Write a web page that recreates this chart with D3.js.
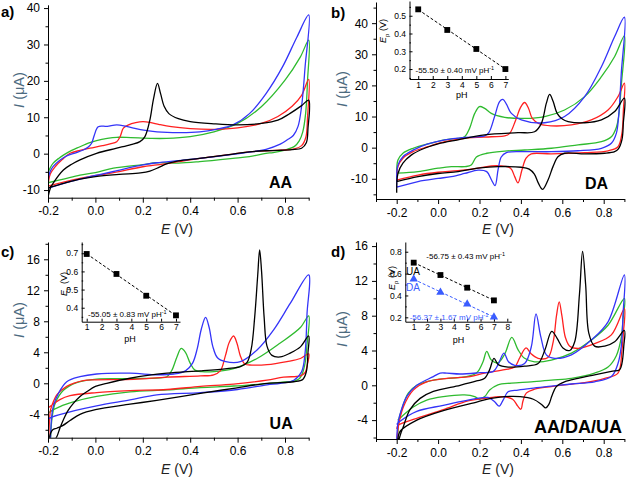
<!DOCTYPE html>
<html><head><meta charset="utf-8">
<script src="https://cdn.jsdelivr.net/npm/d3@7"></script>
<style>body{margin:0;background:#fff}svg{display:block}</style>
</head><body><svg id="chart" width="638" height="480"></svg>
<script>
// ---------- DATA ----------
// Tick values
const xTicksMain = [-0.2, 0.0, 0.2, 0.4, 0.6, 0.8];
const xMinorAC = [-0.1, 0.1, 0.3, 0.5, 0.7, 0.9];
const xMinorBD = [-0.3, -0.1, 0.1, 0.3, 0.5, 0.7, 0.9];
const yTicksA = [-10, 0, 10, 20, 30, 40], yMinorA = [-5, 5, 15, 25, 35];
const yTicksB = [-10, 0, 10, 20, 30, 40], yMinorB = [-15, -5, 5, 15, 25, 35, 45];
const yTicksC = [-4, 0, 4, 8, 12, 16], yMinorC = [-6, -2, 2, 6, 10, 14, 18];
const yTicksD = [-4, 0, 4, 8, 12, 16], yMinorD = [-6, -2, 2, 6, 10, 14];

// Panel a (AA) : [E (V), I (uA)], anodic sweep then cathodic sweep
const aBlack = [[-0.2,-12],[-0.19,-9.5],[-0.178,-8.1],[-0.135,-4.5],[-0.1,-2.9],[-0.065,-1.7],[0.005,0.1],[0.09,1.5],[0.15,2.5],[0.188,3.3],[0.209,4.7],[0.23,9.3],[0.245,15],[0.262,19.3],[0.275,16.5],[0.29,13],[0.31,11],[0.35,9.6],[0.4,8.8],[0.5,8.2],[0.6,7.9],[0.7,8.3],[0.77,9.2],[0.82,11],[0.87,13.2],[0.9,14.7],
  [0.897,7],[0.89,3],[0.87,1.5],[0.83,1.1],[0.77,0.9],[0.72,0.8],[0.65,0.5],[0.58,-0.1],[0.44,-1.3],[0.35,-2.0],[0.3,-2.8],[0.27,-3.7],[0.23,-4.8],[0.19,-5.3],[0.1,-5.7],[0.0,-6.3],[-0.065,-7.0],[-0.13,-8.1],[-0.2,-9.4]];
const aRed = [[-0.2,-8.9],[-0.198,-7.7],[-0.19,-5.5],[-0.17,-3.6],[-0.14,-1.6],[-0.107,0.1],[-0.065,0.9],[-0.023,1.5],[0.03,2.2],[0.062,2.7],[0.09,3.3],[0.105,4.8],[0.118,7.0],[0.14,7.9],[0.17,8.5],[0.2,8.8],[0.23,8.6],[0.27,8.0],[0.32,7.4],[0.4,6.9],[0.5,6.7],[0.6,7.1],[0.7,8.3],[0.77,10.2],[0.83,13],[0.87,16],[0.9,20.4],
  [0.895,10],[0.888,4.5],[0.87,2.2],[0.84,1.3],[0.8,1.0],[0.72,0.8],[0.65,0.5],[0.58,-0.1],[0.44,-1.3],[0.35,-2.2],[0.26,-3.1],[0.2,-3.6],[0.076,-5.2],[-0.065,-6.8],[-0.2,-8.9]];
const aBlue = [[-0.2,-9.5],[-0.199,-6.7],[-0.19,-4.8],[-0.178,-3.5],[-0.15,-1.8],[-0.121,-0.6],[-0.08,0.3],[-0.051,1.0],[-0.03,1.8],[-0.016,2.85],[-0.005,5.0],[0.012,7.4],[0.05,7.5],[0.09,7.9],[0.13,7.5],[0.19,6.6],[0.26,6.0],[0.36,5.8],[0.44,6.0],[0.51,6.7],[0.58,7.9],[0.65,11],[0.72,16.5],[0.79,23.9],[0.85,32],[0.9,38.1],
  [0.885,24],[0.87,13],[0.855,7.5],[0.835,5],[0.81,3.8],[0.78,2.6],[0.72,1.2],[0.65,0.4],[0.58,-0.2],[0.44,-1.3],[0.35,-1.9],[0.259,-2.5],[0.2,-3.1],[0.076,-4.9],[0.0,-6.0],[-0.065,-7.0],[-0.13,-8.1],[-0.2,-9.5]];
const aGreen = [[-0.2,-8.0],[-0.2,-5.4],[-0.19,-3.8],[-0.178,-2.6],[-0.155,-1.3],[-0.135,-0.4],[-0.1,0.9],[-0.065,1.9],[-0.03,2.9],[0.005,3.6],[0.05,4.2],[0.09,4.5],[0.15,4.4],[0.232,4.2],[0.3,4.2],[0.4,4.7],[0.5,6.0],[0.6,8.3],[0.7,12.9],[0.8,20.2],[0.865,26.6],[0.9,31.2],
  [0.895,20],[0.887,11],[0.875,6],[0.86,3.5],[0.84,2.0],[0.8,1.0],[0.75,0.3],[0.72,0.1],[0.65,-0.8],[0.58,-1.3],[0.44,-2.2],[0.35,-2.6],[0.259,-2.5],[0.2,-3.0],[0.076,-4.0],[0.0,-5.2],[-0.065,-5.9],[-0.13,-6.9],[-0.2,-8.0]];

// Panel b (DA)
const bBlack = [[-0.2,-14.5],[-0.194,-8.3],[-0.17,-5.0],[-0.13,-2.4],[-0.065,-0.2],[0.0,1.2],[0.096,2.5],[0.225,4.1],[0.386,4.8],[0.466,5.1],[0.499,7.8],[0.523,14.3],[0.539,17.1],[0.556,14.8],[0.575,11.0],[0.6,9.2],[0.628,8.4],[0.708,8.0],[0.789,8.9],[0.853,11.6],[0.9,15.9],
  [0.895,8],[0.888,2.5],[0.87,-0.5],[0.853,-1.3],[0.805,-1.8],[0.708,-2.0],[0.611,-1.8],[0.579,-2.9],[0.555,-6.1],[0.531,-10.4],[0.505,-13.4],[0.485,-11.5],[0.465,-8.5],[0.44,-6.9],[0.402,-6.3],[0.289,-6.1],[0.193,-6.6],[0.096,-7.7],[0.0,-8.3],[-0.097,-9.3],[-0.2,-10.9]];
const bRed = [[-0.2,-11],[-0.194,-6.1],[-0.17,-3.4],[-0.121,-1.3],[-0.049,0.3],[0.032,1.9],[0.128,3.0],[0.257,3.5],[0.322,3.75],[0.346,4.6],[0.375,8.9],[0.399,13],[0.418,14.5],[0.437,12.6],[0.455,9.4],[0.49,7.6],[0.547,7.0],[0.644,7.3],[0.74,8.9],[0.821,12.1],[0.869,16.4],[0.9,20.7],
  [0.895,12],[0.888,4.6],[0.869,0.3],[0.821,-1.0],[0.708,-1.6],[0.547,-2.0],[0.45,-2.0],[0.425,-3.4],[0.405,-7.2],[0.386,-11.3],[0.37,-9.3],[0.35,-6.6],[0.305,-5.9],[0.257,-5.9],[0.193,-6.6],[0.096,-7.4],[0.0,-7.9],[-0.097,-8.8],[-0.2,-10.4]];
const bBlue = [[-0.2,-12.5],[-0.194,-5.6],[-0.17,-2.9],[-0.121,-0.8],[-0.049,1.2],[0.032,2.5],[0.128,3.3],[0.225,3.75],[0.245,4.8],[0.273,10.0],[0.297,14.8],[0.313,15.5],[0.33,14.0],[0.354,11.0],[0.402,8.9],[0.515,8.0],[0.611,10.0],[0.708,16.4],[0.789,26.0],[0.853,35.7],[0.9,41.9],
  [0.885,24],[0.872,10],[0.861,4.6],[0.837,1.4],[0.789,-0.2],[0.676,-1.0],[0.547,-1.3],[0.418,-1.3],[0.33,-1.6],[0.305,-3.0],[0.29,-7.0],[0.275,-12.2],[0.258,-10.4],[0.235,-7.7],[0.193,-7.2],[0.128,-8.3],[0.064,-9.3],[0.0,-9.9],[-0.097,-10.9],[-0.2,-12.7]];
const bGreen = [[-0.2,-8.2],[-0.194,-4.0],[-0.17,-1.8],[-0.121,-0.2],[-0.049,1.2],[0.032,2.5],[0.096,3.0],[0.128,3.5],[0.152,6.2],[0.177,11.0],[0.2,13.2],[0.225,12.6],[0.257,11.0],[0.322,9.75],[0.418,9.4],[0.515,10.0],[0.611,12.1],[0.708,16.4],[0.789,22.8],[0.853,29.3],[0.9,35.9],
  [0.885,20],[0.872,10],[0.861,6.5],[0.837,3.5],[0.789,1.9],[0.676,0.9],[0.547,-0.2],[0.418,-0.75],[0.322,-1.1],[0.235,-1.8],[0.185,-3.0],[0.16,-5.6],[0.13,-6.1],[0.064,-6.1],[0.0,-6.6],[-0.097,-7.7],[-0.2,-8.2]];

// Panel c (UA)
const cBlack = [[-0.18,-7.6],[-0.163,-6.9],[-0.15,-5.8],[-0.135,-4.7],[-0.115,-3.5],[-0.093,-2.6],[-0.065,-1.7],[-0.037,-1.1],[0.0,-0.4],[0.048,0.0],[0.146,0.65],[0.302,1.3],[0.443,1.6],[0.555,1.9],[0.612,2.15],[0.64,2.7],[0.658,4.5],[0.672,8.5],[0.685,14],[0.693,17.2],[0.701,14.5],[0.712,8.5],[0.724,4.8],[0.745,3.6],[0.78,3.4],[0.822,3.9],[0.865,4.7],[0.9,6.1],
  [0.897,4],[0.89,1.5],[0.875,0.5],[0.837,0.2],[0.724,0.0],[0.583,-0.65],[0.443,-1.3],[0.259,-2.2],[0.146,-2.7],[0.0,-3.4],[-0.065,-4.0],[-0.107,-4.8],[-0.14,-5.5],[-0.163,-5.8],[-0.18,-6.0],[-0.19,-6.5],[-0.195,-7.6]];
const cRed = [[-0.198,-7.6],[-0.193,-4.5],[-0.189,-3.4],[-0.175,-2.2],[-0.163,-1.5],[-0.121,-0.4],[-0.051,0.35],[0.0,0.45],[0.161,0.5],[0.302,0.8],[0.443,0.95],[0.499,1.1],[0.527,1.6],[0.548,3.5],[0.565,5.3],[0.583,6.1],[0.597,5.2],[0.612,3.5],[0.63,2.5],[0.66,2.35],[0.724,2.4],[0.808,2.8],[0.865,3.2],[0.9,3.8],
  [0.895,2.5],[0.885,1.4],[0.865,0.95],[0.794,0.8],[0.724,0.4],[0.583,-0.1],[0.443,-0.4],[0.302,-0.8],[0.146,-0.95],[0.005,-1.2],[-0.107,-1.6],[-0.15,-2.1],[-0.192,-3.0],[-0.2,-3.2]];
const cBlue = [[-0.19,-7.6],[-0.185,-4.5],[-0.178,-3.0],[-0.156,-1.3],[-0.121,0.2],[-0.065,0.85],[0.005,1.2],[0.146,1.3],[0.26,1.1],[0.33,1.2],[0.38,1.6],[0.41,2.6],[0.43,4.5],[0.447,7.0],[0.465,8.5],[0.48,7.2],[0.495,4.8],[0.515,3.3],[0.55,2.8],[0.612,2.8],[0.682,4.3],[0.752,6.9],[0.822,10.3],[0.9,14.0],
  [0.893,9],[0.885,4],[0.87,1.5],[0.837,0.4],[0.78,0.0],[0.724,-0.2],[0.6,-0.8],[0.443,-1.2],[0.259,-1.5],[0.146,-2.15],[0.005,-2.9],[-0.135,-3.9],[-0.199,-4.65],[-0.2,-5.5]];
const cGreen = [[-0.19,-7.6],[-0.183,-4.5],[-0.17,-2.6],[-0.135,-0.9],[-0.079,0.1],[0.005,0.55],[0.146,0.6],[0.274,0.7],[0.302,0.85],[0.323,1.7],[0.344,3.4],[0.362,4.5],[0.38,4.0],[0.4,2.6],[0.42,1.7],[0.45,1.5],[0.5,1.5],[0.583,1.9],[0.682,3.2],[0.78,5.2],[0.865,7.2],[0.9,8.7],
  [0.893,5],[0.882,2.2],[0.86,0.6],[0.78,0.1],[0.696,-0.1],[0.583,-0.35],[0.443,-0.55],[0.302,-0.85],[0.146,-1.1],[0.005,-1.7],[-0.093,-2.4],[-0.149,-3.0],[-0.199,-3.9],[-0.2,-4.5]];

// Panel d (AA/DA/UA)
const dBlack = [[-0.192,-6.5],[-0.18,-5.5],[-0.168,-4.75],[-0.136,-2.8],[-0.087,-1.5],[-0.023,-0.7],[0.106,0.0],[0.186,0.5],[0.225,0.8],[0.249,1.8],[0.27,3.1],[0.29,2.4],[0.338,2.1],[0.418,2.2],[0.483,2.5],[0.515,4.0],[0.549,6.2],[0.575,5.4],[0.603,4.3],[0.636,4.0],[0.66,5.0],[0.683,10.5],[0.698,15.4],[0.713,11.5],[0.728,6],[0.756,4.5],[0.805,4.5],[0.853,5.0],[0.9,6.3],
  [0.897,4.5],[0.888,2.5],[0.877,1.8],[0.837,1.6],[0.756,1.2],[0.676,0.8],[0.611,0.4],[0.571,-0.15],[0.55,-1.2],[0.535,-2.2],[0.52,-2.6],[0.5,-2.2],[0.46,-1.6],[0.396,-1.3],[0.322,-1.3],[0.257,-1.5],[0.19,-1.9],[0.025,-2.9],[-0.103,-4.0],[-0.184,-5.3],[-0.195,-6.5]];
const dRed = [[-0.2,-6.5],[-0.192,-4.75],[-0.168,-2.5],[-0.12,-0.55],[-0.055,0.4],[0.042,0.8],[0.154,1.0],[0.225,1.4],[0.322,1.8],[0.37,2.1],[0.395,3.2],[0.425,4.3],[0.45,3.6],[0.483,3.1],[0.531,3.2],[0.556,5.0],[0.572,8.0],[0.585,9.6],[0.598,8.0],[0.615,5.5],[0.636,4.5],[0.676,4.25],[0.756,4.8],[0.837,5.8],[0.9,8.8],
  [0.895,6],[0.888,4.0],[0.869,1.4],[0.805,0.8],[0.708,0.3],[0.611,0.05],[0.547,-0.15],[0.466,-0.45],[0.426,-0.9],[0.41,-1.8],[0.4,-2.75],[0.385,-2.4],[0.36,-1.6],[0.305,-1.3],[0.225,-1.5],[0.144,-1.8],[0.025,-2.8],[-0.103,-3.8],[-0.192,-4.6],[-0.2,-5]];
const dBlue = [[-0.2,-6.5],[-0.195,-4.5],[-0.187,-3.6],[-0.152,-1.3],[-0.103,0.0],[-0.023,1.0],[0.01,1.4],[0.042,1.4],[0.106,1.3],[0.202,1.45],[0.267,1.6],[0.29,2.4],[0.318,3.7],[0.34,2.7],[0.37,2.3],[0.418,2.5],[0.45,4.4],[0.473,8.2],[0.496,5.6],[0.523,3.5],[0.563,3.1],[0.644,3.5],[0.74,5.2],[0.821,7.3],[0.9,12.7],
  [0.893,8],[0.885,4.5],[0.869,2.5],[0.837,1.0],[0.756,0.4],[0.644,0.15],[0.547,-0.1],[0.45,-0.35],[0.386,-0.55],[0.338,-0.75],[0.314,-1.7],[0.295,-2.4],[0.273,-1.9],[0.241,-1.4],[0.19,-1.5],[0.025,-2.3],[-0.103,-3.0],[-0.187,-4.2],[-0.2,-4.5]];
const dGreen = [[-0.195,-6.5],[-0.19,-4.0],[-0.176,-2.8],[-0.144,-0.9],[-0.103,0.0],[-0.023,0.6],[0.106,0.9],[0.17,1.2],[0.193,1.6],[0.217,2.7],[0.235,3.9],[0.257,2.9],[0.289,2.6],[0.322,3.6],[0.356,5.5],[0.386,4.1],[0.418,3.1],[0.466,2.7],[0.547,2.9],[0.644,3.7],[0.74,5.2],[0.821,6.9],[0.9,10.0],
  [0.893,7.5],[0.885,5.5],[0.861,3.4],[0.821,2.1],[0.756,1.4],[0.644,0.8],[0.547,0.6],[0.45,0.4],[0.354,0.25],[0.289,0.05],[0.249,-0.55],[0.225,-1.3],[0.2,-1.6],[0.177,-1.3],[0.128,-1.1],[0.025,-1.3],[-0.055,-1.7],[-0.12,-2.5],[-0.176,-3.6],[-0.195,-4.0]];

// Insets: peak potential vs pH
const insetPH = [1, 3, 5, 7];
const bInsetEp = [0.536, 0.42, 0.313, 0.2];
const cInsetEp = [0.696, 0.586, 0.466, 0.358];
const dInsetUA = [0.70, 0.587, 0.471, 0.355];
const dInsetDA = [0.55, 0.428, 0.321, 0.202];
const insetXTicks7 = [1, 2, 3, 4, 5, 6, 7];
const insetXTicks8 = [1, 2, 3, 4, 5, 6, 7, 8];
const bInsetY = [0.2, 0.3, 0.4, 0.5], bInsetYMinor = [0.15, 0.25, 0.35, 0.45, 0.55];
const cInsetY = [0.4, 0.5, 0.6, 0.7], cInsetYMinor = [0.35, 0.45, 0.55, 0.65, 0.75];
const dInsetY = [0.2, 0.4, 0.6, 0.8], dInsetYMinor = [0.3, 0.5, 0.7];

// ---------- DRAW ----------
const FONT = '"Liberation Sans", Arial, Helvetica, sans-serif';
const COL = {k: "#000000", r: "#ff2020", b: "#3434f8", g: "#2fbb2f"};
const svg = d3.select("#chart");

function styleAxis(g, fs) {
  g.attr("font-family", FONT).attr("font-size", fs);
  g.selectAll("path,line").attr("stroke", "#000").attr("stroke-width", 1);
  g.selectAll("text").attr("fill", "#000");
}

function panel(cfg) {
  const x = d3.scaleLinear().domain(cfg.xd).range(cfg.xr);
  const y = d3.scaleLinear().domain(cfg.yd).range(cfg.yr);
  const root = svg.append("g");
  const clipId = "clip-" + cfg.id;
  root.append("clipPath").attr("id", clipId).append("rect")
    .attr("x", cfg.xr[0]).attr("y", cfg.yr[1])
    .attr("width", cfg.xr[1] - cfg.xr[0] + 2).attr("height", cfg.yr[0] - cfg.yr[1]);
  const line = d3.line().x(d => x(d[0])).y(d => y(d[1])).curve(d3.curveCatmullRom.alpha(0.5));
  const cg = root.append("g").attr("clip-path", `url(#${clipId})`);
  cfg.curves.forEach(c => {
    cg.append("path").attr("d", line(c.data)).attr("fill", "none")
      .attr("stroke", c.color).attr("stroke-width", 1.3).attr("stroke-linejoin", "round");
  });
  // axes
  const xb = cfg.yr[0], yl = cfg.xr[0];
  const gx = root.append("g").attr("transform", `translate(0,${xb})`)
    .call(d3.axisBottom(x).tickValues(xTicksMain).tickSize(5).tickSizeOuter(0).tickPadding(4).tickFormat(d => d.toFixed(1)));
  styleAxis(gx, 12);
  const gxm = root.append("g").attr("transform", `translate(0,${xb})`)
    .call(d3.axisBottom(x).tickValues(cfg.xMinor).tickSize(3).tickSizeOuter(0).tickFormat(""));
  styleAxis(gxm, 12); gxm.select(".domain").remove();
  const gy = root.append("g").attr("transform", `translate(${yl},0)`)
    .call(d3.axisLeft(y).tickValues(cfg.yTicks).tickSize(4).tickSizeOuter(0).tickPadding(4).tickFormat(d3.format("d")));
  styleAxis(gy, 12);
  const gym = root.append("g").attr("transform", `translate(${yl},0)`)
    .call(d3.axisLeft(y).tickValues(cfg.yMinor).tickSize(2.5).tickSizeOuter(0).tickFormat(""));
  styleAxis(gym, 12); gym.select(".domain").remove();
  gy.selectAll("text").text(function(){ return this.textContent.replace("\u2212", "-"); });
  // titles
  const xt = root.append("text").attr("x", cfg.xTitle[0]).attr("y", cfg.xTitle[1])
    .attr("text-anchor", "middle").attr("font-family", FONT).attr("font-size", 14).attr("fill", "#222");
  xt.append("tspan").attr("font-style", "italic").text("E");
  xt.append("tspan").text(" (V)");
  const yt = root.append("text").attr("transform", `translate(${cfg.yTitle[0]},${cfg.yTitle[1]}) rotate(-90)`)
    .attr("text-anchor", "middle").attr("font-family", FONT).attr("font-size", 14.5).attr("fill", "#4d6b7f");
  yt.append("tspan").attr("font-style", "italic").text("I");
  yt.append("tspan").text(" (\u03bcA)");
  root.append("text").attr("x", cfg.lab[0]).attr("y", cfg.lab[1]).attr("font-family", FONT)
    .attr("font-weight", "bold").attr("font-size", 15).attr("fill", "#000").text(cfg.id + ")");
  root.append("text").attr("x", cfg.tag[0]).attr("y", cfg.tag[1]).attr("text-anchor", "end")
    .attr("font-family", FONT).attr("font-weight", "bold").attr("font-size", cfg.tagSize).attr("fill", "#000").text(cfg.tagText);
}

panel({id: "a", xd: [-0.2, 0.9], xr: [48, 308.7], yd: [-12.1, 40.9], yr: [197.7, 4.8],
  xMinor: xMinorAC, yTicks: yTicksA, yMinor: yMinorA,
  curves: [{data: aGreen, color: COL.g}, {data: aRed, color: COL.r}, {data: aBlue, color: COL.b}, {data: aBlack, color: COL.k}],
  xTitle: [177, 234], yTitle: [24, 90], lab: [1, 17], tag: [292, 188], tagSize: 16, tagText: "AA"});
panel({id: "b", xd: [-0.3, 0.9], xr: [376, 624.4], yd: [-16.5, 46.8], yr: [199, 2],
  xMinor: xMinorBD, yTicks: yTicksB, yMinor: yMinorB,
  curves: [{data: bGreen, color: COL.g}, {data: bRed, color: COL.r}, {data: bBlue, color: COL.b}, {data: bBlack, color: COL.k}],
  xTitle: [498, 234], yTitle: [347, 89], lab: [331, 17.5], tag: [608, 188.5], tagSize: 16, tagText: "DA"});
panel({id: "c", xd: [-0.2, 0.9], xr: [48, 308.7], yd: [-7.02, 18.23], yr: [437.7, 242],
  xMinor: xMinorAC, yTicks: yTicksC, yMinor: yMinorC,
  curves: [{data: cGreen, color: COL.g}, {data: cRed, color: COL.r}, {data: cBlue, color: COL.b}, {data: cBlack, color: COL.k}],
  xTitle: [177, 474], yTitle: [24, 320], lab: [1, 257], tag: [292.7, 429], tagSize: 16, tagText: "UA"});
panel({id: "d", xd: [-0.3, 0.9], xr: [376, 624.4], yd: [-6.17, 16.47], yr: [439, 242],
  xMinor: xMinorBD, yTicks: yTicksD, yMinor: yMinorD,
  curves: [{data: dGreen, color: COL.g}, {data: dRed, color: COL.r}, {data: dBlue, color: COL.b}, {data: dBlack, color: COL.k}],
  xTitle: [498, 474], yTitle: [347, 329], lab: [331, 257], tag: [622, 433], tagSize: 18, tagText: "AA/DA/UA"});

// ---------- INSETS ----------
function slopeText(g, xPos, yPos, txt, color) {
  const t = g.append("text").attr("x", xPos).attr("y", yPos).attr("font-family", FONT)
    .attr("font-size", 8).attr("fill", color);
  t.append("tspan").text(txt + " mV pH");
  t.append("tspan").attr("dy", -3).attr("font-size", 5.5).text("-1");
}
function fitLine(xs, ys) {
  const mx = d3.mean(xs), my = d3.mean(ys);
  const s = d3.sum(xs, (v, i) => (v - mx) * (ys[i] - my)) / d3.sum(xs, v => (v - mx) * (v - mx));
  return v => my + s * (v - mx);
}
function inset(cfg) {
  const x = d3.scaleLinear().domain(cfg.xd).range(cfg.xr);
  const y = d3.scaleLinear().domain(cfg.yd).range(cfg.yr);
  const g = svg.append("g");
  const gx = g.append("g").attr("transform", `translate(0,${cfg.yr[0]})`)
    .call(d3.axisBottom(x).tickValues(cfg.xTicks).tickSize(-3).tickSizeOuter(0).tickPadding(2.5).tickFormat(d3.format("d")));
  styleAxis(gx, 8.5);
  const gy = g.append("g").attr("transform", `translate(${cfg.xr[0]},0)`)
    .call(d3.axisLeft(y).tickValues(cfg.yTicks).tickSize(-3).tickSizeOuter(0).tickPadding(3.5).tickFormat(d3.format(".1f")));
  styleAxis(gy, 8.5);
  const gym = g.append("g").attr("transform", `translate(${cfg.xr[0]},0)`)
    .call(d3.axisLeft(y).tickValues(cfg.yMinor).tickSize(-1.5).tickSizeOuter(0).tickFormat(""));
  styleAxis(gym, 8.5); gym.select(".domain").remove();
  const yl = g.append("text").attr("transform", `translate(${cfg.yTitle[0]},${cfg.yTitle[1]}) rotate(-90)`)
    .attr("text-anchor", "middle").attr("font-family", FONT).attr("font-size", 9).attr("fill", "#000");
  yl.append("tspan").attr("font-style", "italic").text("E");
  yl.append("tspan").attr("dy", 2.5).attr("font-size", 6).text("p");
  yl.append("tspan").attr("dy", -2.5).text(" (V)");
  g.append("text").attr("x", cfg.phTitle[0]).attr("y", cfg.phTitle[1]).attr("text-anchor", "middle")
    .attr("font-family", FONT).attr("font-size", 9).attr("fill", "#000").text("pH");
  cfg.series.forEach(s => {
    const f = fitLine(insetPH, s.ep);
    g.append("line").attr("x1", x(1)).attr("y1", y(f(1))).attr("x2", x(7)).attr("y2", y(f(7)))
      .attr("stroke", s.color).attr("stroke-width", 1).attr("stroke-dasharray", "3,2");
    const sym = d3.symbol().type(s.shape === "tri" ? d3.symbolTriangle : d3.symbolSquare).size(s.shape === "tri" ? 30 : 34);
    g.selectAll(null).data(insetPH.map((p, i) => [p, s.ep[i]])).enter().append("path")
      .attr("d", sym).attr("transform", d => `translate(${x(d[0])},${y(d[1])})`).attr("fill", s.color);
  });
  return g;
}
const gb = inset({xd: [0.4, 7.2], xr: [409.5, 508.3], yd: [0.144, 0.583], yr: [79, 1],
  xTicks: insetXTicks7, yTicks: bInsetY, yMinor: bInsetYMinor, yTitle: [386, 31], phTitle: [461.7, 98],
  series: [{ep: bInsetEp, color: "#000", shape: "sq"}]});
slopeText(gb, 415.5, 73, "-55.50 \u00b1 0.40", "#000");
const gc = inset({xd: [0.664, 7.27], xr: [81.7, 180], yd: [0.323, 0.762], yr: [321.7, 242],
  xTicks: insetXTicks7, yTicks: cInsetY, yMinor: cInsetYMinor, yTitle: [67, 284], phTitle: [130, 341.5],
  series: [{ep: cInsetEp, color: "#000", shape: "sq"}]});
slopeText(gc, 88, 317.3, "-55.05 \u00b1 0.83", "#000");
const gd = inset({xd: [0.372, 8.3], xr: [405.3, 511.3], yd: [0.16, 0.889], yr: [321.7, 242],
  xTicks: insetXTicks8, yTicks: dInsetY, yMinor: dInsetYMinor, yTitle: [395, 278], phTitle: [458.6, 343],
  series: [{ep: dInsetUA, color: "#000", shape: "sq"}, {ep: dInsetDA, color: "#3a5cff", shape: "tri"}]});
slopeText(gd, 426.3, 259, "-56.75 \u00b1 0.43", "#000");
slopeText(gd, 409.7, 319.5, "-56.37 \u00b1 1.67", "#3a5cff");
gd.append("text").attr("x", 406).attr("y", 275).attr("font-family", FONT).attr("font-size", 10).attr("fill", "#000").text("UA");
gd.append("text").attr("x", 406).attr("y", 291).attr("font-family", FONT).attr("font-size", 10).attr("fill", "#3a5cff").text("DA");
</script></body></html>
